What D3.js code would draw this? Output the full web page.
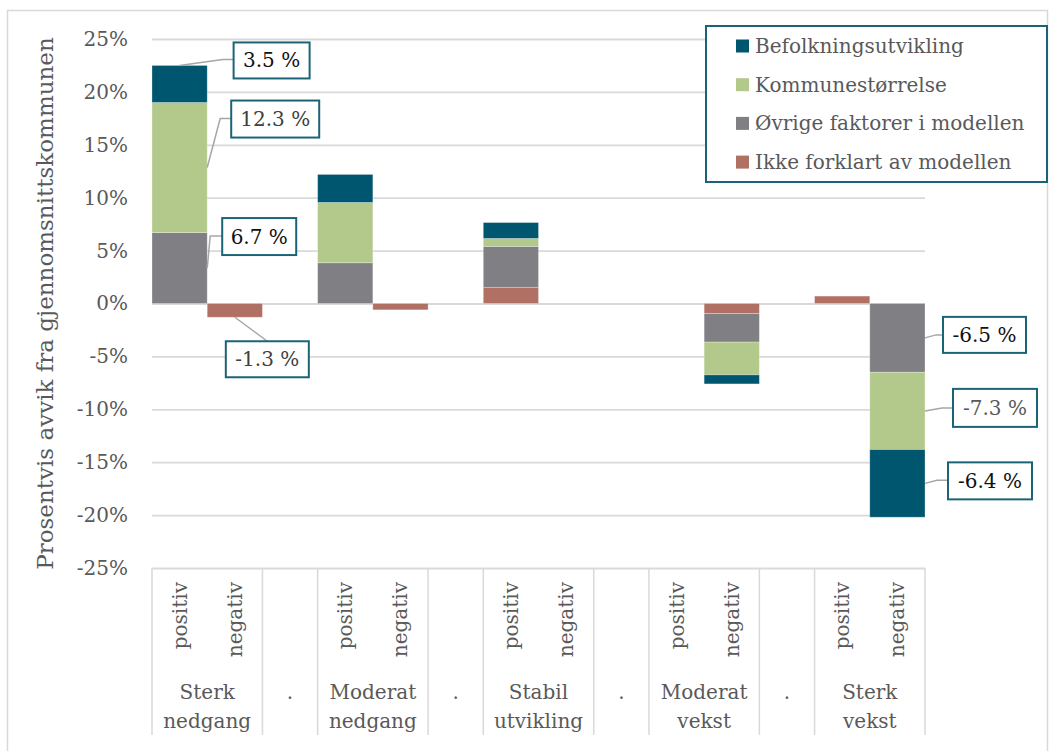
<!DOCTYPE html>
<html lang="no">
<head>
    <meta charset="UTF-8">
    <title>Prosentvis avvik fra gjennomsnittskommunen</title>
    <script src="https://d3js.org/d3.v7.min.js"></script>
    <style>
        body { margin: 0; background: #fff; font-family: "DejaVu Serif", serif; }
        text { font-family: "DejaVu Serif", serif; }
    </style>
</head>
<body>
    <div id="chart"></div>
    <script>
        // slots along the x axis (groups split into positiv / negativ, dots between groups)
        const slots = ["SN-pos", "SN-neg", "d1", "MN-pos", "MN-neg", "d2", "SU-pos", "SU-neg", "d3", "MV-pos", "MV-neg", "d4", "SV-pos", "SV-neg"];
        const slotLabels = ["positiv", "negativ", "", "positiv", "negativ", "", "positiv", "negativ", "", "positiv", "negativ", "", "positiv", "negativ"];
        const groupLabels = [["Sterk", "nedgang"], ["."], ["Moderat", "nedgang"], ["."], ["Stabil", "utvikling"], ["."], ["Moderat", "vekst"], ["."], ["Sterk", "vekst"]];
        const groupSlots = [["SN-pos", "SN-neg"], ["d1"], ["MN-pos", "MN-neg"], ["d2"], ["SU-pos", "SU-neg"], ["d3"], ["MV-pos", "MV-neg"], ["d4"], ["SV-pos", "SV-neg"]];

        // series values in percent, stacked in this order
        const ikkeForklart = [0, -1.3, 0, 0, -0.6, 0, 1.5, 0, 0, 0, -0.95, 0, 0.7, 0];
        const ovrige       = [6.7, 0, 0, 3.85, 0, 0, 3.9, 0, 0, 0, -2.7, 0, 0, -6.5];
        const kommune      = [12.3, 0, 0, 5.7, 0, 0, 0.75, 0, 0, 0, -3.1, 0, 0, -7.3];
        const befolkning   = [3.5, 0, 0, 2.65, 0, 0, 1.5, 0, 0, 0, -0.85, 0, 0, -6.4];

        const seriesKeys = ["ikke", "ovrige", "kommune", "befolkning"];
        const seriesNames = {
            befolkning: "Befolkningsutvikling",
            kommune: "Kommunestørrelse",
            ovrige: "Øvrige faktorer i modellen",
            ikke: "Ikke forklart av modellen"
        };
        const colors = { befolkning: "#00556F", kommune: "#B3C98B", ovrige: "#807F84", ikke: "#B07064" };

        const yTicks = [-25, -20, -15, -10, -5, 0, 5, 10, 15, 20, 25];

        const table = slots.map((s, i) => ({
            slot: s,
            ikke: ikkeForklart[i],
            ovrige: ovrige[i],
            kommune: kommune[i],
            befolkning: befolkning[i]
        }));

        const W = 1050, H = 751;
        const plot = { left: 152, right: 925, top: 39, bottom: 568 };

        const svg = d3.select("#chart").append("svg")
            .attr("width", W).attr("height", H);

        // outer chart border
        svg.append("rect")
            .attr("x", 7.5).attr("y", 10.5)
            .attr("width", 1040).attr("height", 800)
            .attr("fill", "#fff").attr("stroke", "#d9d9d9").attr("stroke-width", 1.5);

        const x = d3.scaleBand().domain(slots).range([plot.left, plot.right]).padding(0);
        const y = d3.scaleLinear().domain([-25, 25]).range([plot.bottom, plot.top]);

        // y axis with gridlines
        const yAxis = svg.append("g")
            .attr("transform", `translate(${plot.left},0)`)
            .call(d3.axisLeft(y)
                .tickValues(yTicks)
                .tickSize(-(plot.right - plot.left))
                .tickPadding(24)
                .tickFormat(d => d + "%"));
        yAxis.select(".domain").remove();
        yAxis.selectAll(".tick line").attr("stroke", "#d9d9d9").attr("stroke-width", 1.8);
        yAxis.selectAll(".tick text")
            .attr("fill", "#595959")
            .style("font-size", "20px");

        // y axis title
        svg.append("text")
            .attr("transform", `translate(53,${(plot.top + plot.bottom) / 2}) rotate(-90)`)
            .attr("text-anchor", "middle")
            .attr("fill", "#595959")
            .style("font-size", "23px")
            .text("Prosentvis avvik fra gjennomsnittskommunen");

        // stacked bars
        const stack = d3.stack().keys(seriesKeys).offset(d3.stackOffsetDiverging);
        const stacked = stack(table);

        svg.append("g").selectAll("g")
            .data(stacked)
            .join("g")
            .attr("fill", d => colors[d.key])
            .selectAll("rect")
            .data(d => d.filter(p => p[1] - p[0] !== 0))
            .join("rect")
            .attr("x", d => x(d.data.slot))
            .attr("width", x.bandwidth())
            .attr("y", d => y(Math.max(d[0], d[1])))
            .attr("height", d => Math.abs(y(d[0]) - y(d[1])))
            .attr("stroke", "#ffffff")
            .attr("stroke-opacity", 0.35)
            .attr("stroke-width", 0.8);

        // category axis: dividers and labels
        const axisBottom = 735;
        const dividers = [plot.left].concat(groupSlots.map(g => x(g[g.length - 1]) + x.bandwidth()));
        svg.append("g").selectAll("line")
            .data(dividers)
            .join("line")
            .attr("x1", d => d).attr("x2", d => d)
            .attr("y1", plot.bottom).attr("y2", axisBottom)
            .attr("stroke", "#d9d9d9").attr("stroke-width", 1.5);

        svg.append("g").selectAll("text")
            .data(slots.map((s, i) => ({ slot: s, label: slotLabels[i] })).filter(d => d.label))
            .join("text")
            .attr("transform", d => `translate(${x(d.slot) + x.bandwidth() / 2 + 7},582) rotate(-90)`)
            .attr("text-anchor", "end")
            .attr("fill", "#595959")
            .style("font-size", "20px")
            .text(d => d.label);

        const groupText = svg.append("g").selectAll("text")
            .data(groupLabels.map((lines, i) => ({ lines, slots: groupSlots[i] })))
            .join("text")
            .attr("text-anchor", "middle")
            .attr("fill", "#595959")
            .style("font-size", "20px")
            .attr("x", d => (x(d.slots[0]) + x(d.slots[d.slots.length - 1]) + x.bandwidth()) / 2)
            .attr("y", 699);
        groupText.selectAll("tspan")
            .data(d => d.lines.map(l => ({ l, cx: (x(d.slots[0]) + x(d.slots[d.slots.length - 1]) + x.bandwidth()) / 2 })))
            .join("tspan")
            .attr("x", d => d.cx)
            .attr("dy", (d, i) => i === 0 ? 0 : 29)
            .text(d => d.l);

        // callout labels: slot, series, where the leader starts, box and elbow offsets
        const callouts = [
            { slot: "SN-pos", key: "befolkning", at: "top", box: [54, -23, 76, 36], elbow: [43, -6], color: "#111" },
            { slot: "SN-pos", key: "kommune", at: "right", box: [24, -67, 88, 37], elbow: [13, -49], color: "#404040" },
            { slot: "SN-pos", key: "ovrige", at: "right", box: [15, -50, 74, 37], elbow: [3, -32], color: "#111" },
            { slot: "SN-neg", key: "ikke", at: "bottom", box: [-9, 24, 83, 36], elbow: null, color: "#404040" },
            { slot: "SV-neg", key: "ovrige", at: "right", box: [18, -21, 83, 36], elbow: [11, -3], color: "#111" },
            { slot: "SV-neg", key: "kommune", at: "right", box: [28, -22, 84, 38], elbow: [17, -3], color: "#595959" },
            { slot: "SV-neg", key: "befolkning", at: "right", box: [23, -21, 84, 37], elbow: [12, -3], color: "#111" }
        ];

        const seg = (slot, key) => stacked.find(s => s.key === key)[slots.indexOf(slot)];

        const cg = svg.append("g");
        callouts.forEach(c => {
            const p = seg(c.slot, c.key);
            const v = p.data[c.key];
            let ax, ay;
            if (c.at === "top") {
                ax = x(c.slot) + x.bandwidth() / 2; ay = y(Math.max(p[0], p[1]));
            } else if (c.at === "bottom") {
                ax = x(c.slot) + x.bandwidth() / 2; ay = y(Math.min(p[0], p[1]));
            } else {
                ax = x(c.slot) + x.bandwidth(); ay = y((p[0] + p[1]) / 2);
            }
            const bx = ax + c.box[0], by = ay + c.box[1], bw = c.box[2], bh = c.box[3];
            let pts;
            if (c.elbow) {
                const ex = ax + c.elbow[0], ey = ay + c.elbow[1];
                pts = [[ax, ay], [ex, ey], [bx, ey]];
            } else {
                pts = [[ax, ay], [bx + bw * 0.5, by]];
            }
            cg.append("path")
                .attr("d", d3.line()(pts))
                .attr("fill", "none")
                .attr("stroke", "#a6a6a6")
                .attr("stroke-width", 1.5);
            cg.append("rect")
                .attr("x", bx).attr("y", by)
                .attr("width", bw).attr("height", bh)
                .attr("fill", "#fff")
                .attr("stroke", "#1B6478")
                .attr("stroke-width", 2);
            cg.append("text")
                .attr("x", bx + bw / 2).attr("y", by + bh / 2 + 7)
                .attr("text-anchor", "middle")
                .attr("fill", c.color)
                .style("font-size", "20px")
                .text(v.toFixed(1) + " %");
        });

        // legend
        const legendKeys = ["befolkning", "kommune", "ovrige", "ikke"];
        const lg = svg.append("g");
        lg.append("rect")
            .attr("x", 706).attr("y", 26)
            .attr("width", 341).attr("height", 156)
            .attr("fill", "#fff")
            .attr("stroke", "#1B6478")
            .attr("stroke-width", 2);
        const items = lg.selectAll("g.item")
            .data(legendKeys)
            .join("g")
            .attr("class", "item")
            .attr("transform", (d, i) => `translate(736,${46 + i * 38.7})`);
        items.append("rect")
            .attr("x", 0).attr("y", -6.5)
            .attr("width", 13).attr("height", 13)
            .attr("fill", d => colors[d]);
        items.append("text")
            .attr("x", 19).attr("y", 7)
            .attr("fill", "#595959")
            .style("font-size", "20px")
            .text(d => seriesNames[d]);
    </script>
</body>
</html>
